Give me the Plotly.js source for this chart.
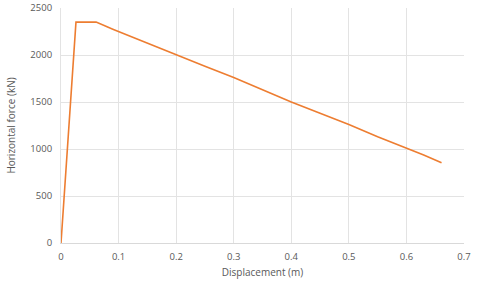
<!DOCTYPE html>
<html><head><meta charset="utf-8">
<script src="https://cdn.plot.ly/plotly-3.0.1.min.js"></script>
<style>html,body{margin:0;padding:0;background:#fff}#c{width:480px;height:286px}</style>
</head><body><div id="c"></div>
<script>
const displacement = [0, 0.026, 0.061, 0.07, 0.08, 0.09, 0.1, 0.12, 0.14, 0.16, 0.18, 0.2, 0.25, 0.3, 0.35, 0.4, 0.45, 0.5, 0.55, 0.6, 0.63, 0.661];
const force = [0, 2350, 2350, 2330, 2300, 2275, 2250, 2200, 2150, 2100, 2050, 2000, 1880, 1760, 1630, 1500, 1380, 1260, 1130, 1010, 935, 854];
const xTicks = [0, 0.1, 0.2, 0.3, 0.4, 0.5, 0.6, 0.7];
const yTicks = [0, 500, 1000, 1500, 2000, 2500];

Plotly.newPlot('c', [{
  x: displacement, y: force, mode: 'lines', type: 'scatter',
  line: {color: '#ED7D31', width: 1.6}
}], {
  width: 480, height: 286,
  margin: {l: 61, r: 16, t: 8, b: 43},
  paper_bgcolor: '#fff', plot_bgcolor: '#fff',
  font: {family: 'Open Sans, sans-serif', size: 9.5, color: '#595959'},
  showlegend: false,
  xaxis: {
    range: [0, 0.7], tickvals: xTicks, ticktext: xTicks.map(String),
    showgrid: true, gridcolor: '#e3e3e3', gridwidth: 1,
    zeroline: false, showline: true, linecolor: '#d9d9d9', ticks: '',
    ticklabelstandoff: 5,
    title: {text: 'Displacement (m)', font: {size: 10, color: '#595959'}, standoff: 6}
  },
  yaxis: {
    range: [0, 2500], tickvals: yTicks, ticktext: yTicks.map(String),
    showgrid: true, gridcolor: '#e3e3e3', gridwidth: 1,
    zeroline: false, showline: true, linecolor: '#e3e3e3', ticks: '',
    ticklabelstandoff: 6,
    title: {text: 'Horizontal force (kN)', font: {size: 10, color: '#595959'}, standoff: 12}
  }
}, {displayModeBar: false, staticPlot: true});
</script></body></html>
